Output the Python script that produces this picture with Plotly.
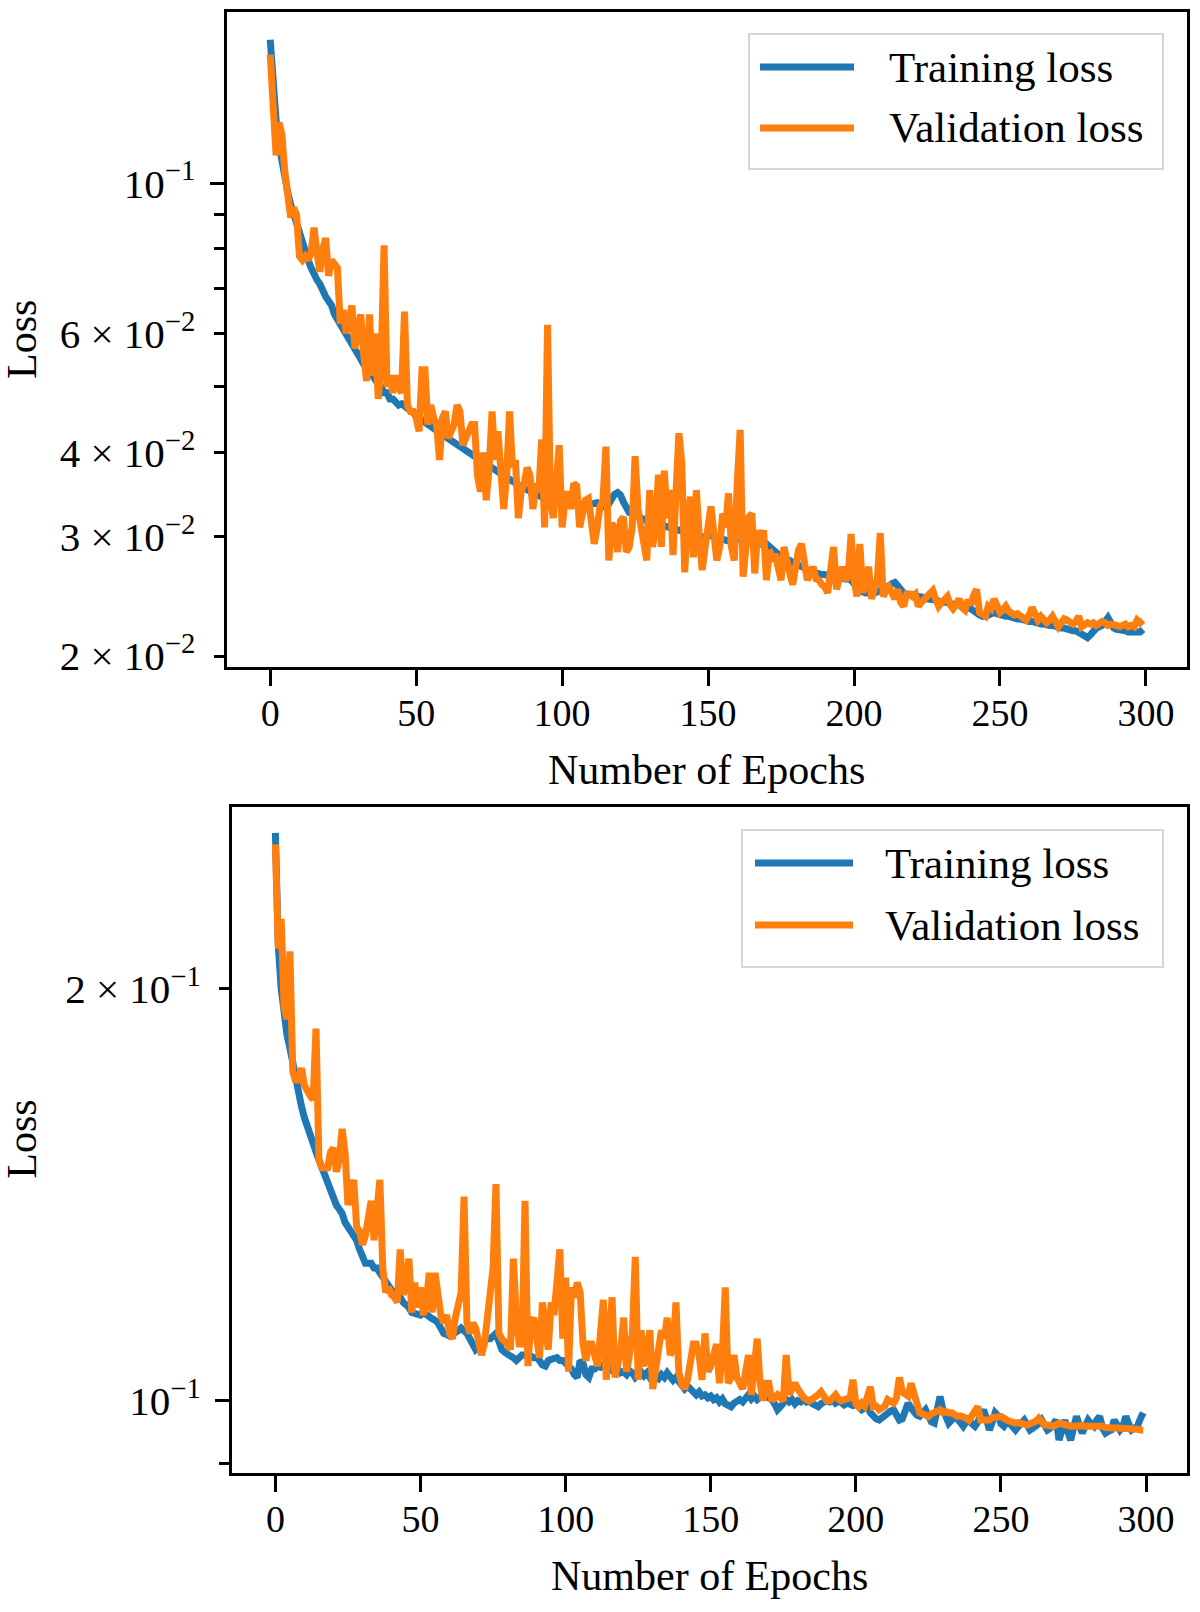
import plotly.graph_objects as go

# epochs and loss curves
epochs = list(range(300))

top_train = [
    0.163, 0.140, 0.124, 0.114, 0.107, 0.101, 0.097, 0.093, 0.090, 0.087,
    0.084, 0.081, 0.079, 0.077, 0.075, 0.073, 0.072, 0.071, 0.069, 0.068,
    0.067, 0.066, 0.064, 0.063, 0.062, 0.061, 0.060, 0.059, 0.058, 0.057,
    0.056, 0.055, 0.054, 0.0535, 0.053, 0.052, 0.051, 0.0505, 0.050, 0.049,
    0.049, 0.048, 0.048, 0.0475, 0.047, 0.0472, 0.0468, 0.0465, 0.046, 0.0458,
    0.0455, 0.045, 0.0447, 0.0443, 0.044, 0.0437, 0.0433, 0.043, 0.0428, 0.0425,
    0.0422, 0.042, 0.0417, 0.0413, 0.041, 0.0408, 0.0405, 0.0402, 0.040, 0.0398,
    0.0395, 0.0392, 0.039, 0.0387, 0.0385, 0.0382, 0.038, 0.0377, 0.0375, 0.0372,
    0.037, 0.0367, 0.0365, 0.0362, 0.036, 0.0358, 0.0356, 0.0354, 0.0352, 0.035,
    0.0348, 0.0347, 0.0345, 0.0344, 0.0342, 0.0341, 0.034, 0.0342, 0.0344, 0.0343,
    0.0342, 0.034, 0.0338, 0.0337, 0.0336, 0.0338, 0.0336, 0.0334, 0.0333, 0.0335,
    0.0336, 0.0338, 0.0337, 0.0334, 0.0333, 0.0332, 0.0336, 0.0342, 0.0347, 0.0349,
    0.0346, 0.0338, 0.033, 0.0326, 0.0325, 0.0323, 0.0322, 0.032, 0.0318, 0.0317,
    0.0316, 0.0315, 0.0314, 0.0313, 0.0312, 0.0311, 0.031, 0.0309, 0.0308, 0.0308,
    0.0307, 0.0306, 0.0305, 0.0304, 0.0304, 0.0303, 0.0302, 0.0301, 0.030, 0.030,
    0.0302, 0.0301, 0.030, 0.0299, 0.0298, 0.0297, 0.0297, 0.0296, 0.0296, 0.0295,
    0.0298, 0.0297, 0.0296, 0.0295, 0.0294, 0.0294, 0.0293, 0.0293, 0.0292, 0.0292,
    0.0293, 0.029, 0.0287, 0.0285, 0.0283, 0.0281, 0.028, 0.0278, 0.0277, 0.0275,
    0.0274, 0.0273, 0.0271, 0.027, 0.0268, 0.0267, 0.0266, 0.0265, 0.0265, 0.0264,
    0.0264, 0.0263, 0.0263, 0.0262, 0.0262, 0.0261, 0.0261, 0.026, 0.026, 0.0259,
    0.0256, 0.0253, 0.025, 0.0249, 0.0248, 0.0248, 0.0247, 0.0248, 0.0249, 0.025,
    0.0251, 0.0252, 0.0254, 0.0256, 0.0257, 0.0254, 0.025, 0.0248, 0.0247, 0.0247,
    0.0246, 0.0246, 0.0245, 0.0245, 0.0244, 0.0243, 0.0243, 0.0242, 0.0242, 0.0241,
    0.0241, 0.024, 0.024, 0.0239, 0.0239, 0.0238, 0.0238, 0.0237, 0.0237, 0.0236,
    0.0235, 0.0233, 0.0231, 0.023, 0.0229, 0.0229, 0.023, 0.0231, 0.0232, 0.0231,
    0.023, 0.023, 0.0229, 0.0229, 0.0228, 0.0228, 0.0227, 0.0227, 0.0226, 0.0226,
    0.0225, 0.0225, 0.0224, 0.0224, 0.0223, 0.0223, 0.0222, 0.0222, 0.0222, 0.0221,
    0.0221, 0.022, 0.022, 0.0219, 0.0219, 0.0218, 0.0218, 0.0217, 0.0216, 0.0215,
    0.0213, 0.0215, 0.0218, 0.022, 0.0221, 0.0222, 0.0225, 0.0228, 0.0224, 0.022,
    0.0219, 0.0219, 0.0218, 0.0218, 0.0217, 0.0217, 0.0217, 0.0216, 0.0217, 0.0219,
]

top_val = [
    0.155, 0.135, 0.110, 0.123, 0.118, 0.104, 0.095, 0.089, 0.092, 0.090,
    0.078, 0.077, 0.078, 0.077, 0.079, 0.086, 0.079, 0.074, 0.080, 0.083,
    0.073, 0.077, 0.076, 0.075, 0.062, 0.065, 0.060, 0.063, 0.066, 0.057,
    0.061, 0.064, 0.056, 0.051, 0.064, 0.052, 0.060, 0.048, 0.054, 0.081,
    0.050, 0.052, 0.049, 0.052, 0.050, 0.049, 0.0646, 0.047, 0.046, 0.046,
    0.045, 0.043, 0.053, 0.053, 0.044, 0.047, 0.045, 0.044, 0.039, 0.045,
    0.046, 0.042, 0.043, 0.044, 0.047, 0.046, 0.041, 0.042, 0.043, 0.044,
    0.044, 0.037, 0.035, 0.040, 0.034, 0.038, 0.046, 0.039, 0.043, 0.038,
    0.033, 0.037, 0.046, 0.038, 0.039, 0.032, 0.035, 0.036, 0.038, 0.037,
    0.033, 0.036, 0.035, 0.0418, 0.031, 0.0618, 0.034, 0.032, 0.038, 0.041,
    0.031, 0.034, 0.035, 0.033, 0.036, 0.0357, 0.031, 0.033, 0.034, 0.0342,
    0.0307, 0.0293, 0.031, 0.0333, 0.034, 0.0408, 0.0277, 0.0314, 0.031, 0.0285,
    0.0317, 0.0321, 0.0285, 0.029, 0.031, 0.0395, 0.033, 0.0307, 0.029, 0.0277,
    0.0352, 0.029, 0.031, 0.0371, 0.029, 0.0376, 0.032, 0.0352, 0.0282, 0.035,
    0.0427, 0.0386, 0.0266, 0.032, 0.0344, 0.028, 0.0352, 0.030, 0.0268, 0.029,
    0.0314, 0.0333, 0.0303, 0.0277, 0.029, 0.0325, 0.031, 0.0348, 0.029, 0.0277,
    0.036, 0.0432, 0.0262, 0.030, 0.0321, 0.0325, 0.0265, 0.0307, 0.029, 0.0307,
    0.0259, 0.0287, 0.028, 0.0283, 0.027, 0.0259, 0.029, 0.028, 0.0265, 0.0255,
    0.027, 0.0287, 0.0293, 0.027, 0.0259, 0.0265, 0.0271, 0.026, 0.0259, 0.0255,
    0.0253, 0.0248, 0.0265, 0.029, 0.0251, 0.026, 0.0271, 0.0259, 0.0262, 0.0303,
    0.026, 0.0245, 0.0293, 0.0248, 0.026, 0.0271, 0.0243, 0.0255, 0.026, 0.0304,
    0.0245, 0.025, 0.0253, 0.0248, 0.0243, 0.0251, 0.024, 0.0237, 0.0247, 0.0247,
    0.0245, 0.0247, 0.0237, 0.024, 0.0243, 0.0245, 0.0248, 0.025, 0.0243, 0.0237,
    0.024, 0.0243, 0.0245, 0.0238, 0.0235, 0.0238, 0.0243, 0.0236, 0.0234, 0.0242,
    0.0238, 0.0246, 0.0251, 0.0232, 0.0231, 0.0229, 0.0237, 0.0235, 0.0243, 0.0236,
    0.0232, 0.0234, 0.0237, 0.0233, 0.0232, 0.023, 0.0231, 0.0229, 0.0228, 0.0226,
    0.023, 0.0236, 0.0231, 0.0226, 0.0229, 0.0227, 0.0224, 0.0226, 0.0229, 0.0225,
    0.0221, 0.0224, 0.0227, 0.0226, 0.0224, 0.0223, 0.0225, 0.0229, 0.0221, 0.0222,
    0.0224, 0.0223, 0.0224, 0.0222, 0.0223, 0.0225, 0.0224, 0.0222, 0.0223, 0.0223,
    0.0222, 0.0221, 0.0222, 0.0223, 0.0221, 0.0222, 0.0221, 0.0226, 0.0224, 0.0226,
]

bottom_train = [
    0.260, 0.215, 0.200, 0.190, 0.185, 0.181, 0.176, 0.172, 0.168, 0.164,
    0.161, 0.159, 0.157, 0.155, 0.152, 0.150, 0.148, 0.146, 0.144, 0.143,
    0.141, 0.139, 0.138, 0.137, 0.135, 0.134, 0.133, 0.132, 0.131, 0.129,
    0.127, 0.126, 0.126, 0.126, 0.125, 0.125, 0.124, 0.123, 0.122, 0.121,
    0.1205, 0.120, 0.1195, 0.119, 0.118, 0.1175, 0.117, 0.116, 0.1158, 0.1155,
    0.1155, 0.116, 0.1155, 0.115, 0.1148, 0.1145, 0.114, 0.113, 0.112, 0.1118,
    0.1115, 0.1118, 0.112, 0.1125, 0.113, 0.1125, 0.112, 0.111, 0.110, 0.109,
    0.1095, 0.110, 0.1105, 0.111, 0.111, 0.1115, 0.112, 0.1105, 0.109, 0.1085,
    0.108, 0.1078, 0.1075, 0.107, 0.1075, 0.108, 0.108, 0.108, 0.1078, 0.1075,
    0.1075, 0.107, 0.1062, 0.106, 0.107, 0.1072, 0.1075, 0.1075, 0.107, 0.107,
    0.1065, 0.106, 0.1055, 0.1045, 0.104, 0.107, 0.1065, 0.1045, 0.104, 0.1055,
    0.1055, 0.106, 0.1058, 0.1062, 0.1056, 0.106, 0.1052, 0.105, 0.1055, 0.1048,
    0.105, 0.1045, 0.1052, 0.1048, 0.104, 0.1045, 0.105, 0.1043, 0.1048, 0.104,
    0.1045, 0.1042, 0.1038, 0.1045, 0.104, 0.1048, 0.1043, 0.1035, 0.104, 0.1032,
    0.1028, 0.102, 0.1025, 0.1018, 0.1015, 0.101, 0.1015, 0.1008, 0.101, 0.1005,
    0.1008, 0.1002, 0.1005, 0.0998, 0.1003, 0.0995, 0.0992, 0.099, 0.0996, 0.1,
    0.1002, 0.0998, 0.1005, 0.101, 0.1003, 0.1008, 0.1002, 0.1005, 0.101, 0.1008,
    0.1005, 0.1002, 0.0995, 0.0985, 0.099, 0.0998, 0.1002, 0.0998, 0.1002, 0.0995,
    0.1, 0.0998, 0.1002, 0.0998, 0.1, 0.0995, 0.0992, 0.099, 0.0995, 0.0998,
    0.1, 0.0998, 0.1002, 0.0996, 0.0999, 0.0997, 0.0993, 0.0996, 0.0994, 0.0992,
    0.0995, 0.099, 0.0985, 0.0988, 0.099, 0.098, 0.0974, 0.097, 0.0968, 0.0972,
    0.0978, 0.098, 0.0983, 0.0985, 0.0975, 0.0968, 0.097, 0.0985, 0.0996, 0.0988,
    0.098, 0.0976, 0.0974, 0.098, 0.0985, 0.0975, 0.0965, 0.0963, 0.098, 0.1007,
    0.0985, 0.097, 0.0963, 0.0968, 0.0974, 0.097, 0.0962, 0.0958, 0.0965, 0.0968,
    0.0962, 0.0958, 0.0965, 0.0978, 0.0985, 0.097, 0.0952, 0.0965, 0.098, 0.0975,
    0.0962, 0.0958, 0.0965, 0.0963, 0.0958, 0.0952, 0.0958, 0.0965, 0.0968, 0.096,
    0.0952, 0.0955, 0.0958, 0.0962, 0.0968, 0.096, 0.0952, 0.0955, 0.0962, 0.0968,
    0.0936, 0.0952, 0.0968, 0.095, 0.0936, 0.0955, 0.0974, 0.096, 0.0947, 0.0958,
    0.0968, 0.0962, 0.0958, 0.0968, 0.0974, 0.0955, 0.0947, 0.095, 0.0952, 0.0968,
    0.096, 0.0952, 0.0958, 0.0974, 0.0962, 0.0952, 0.0955, 0.0958, 0.097, 0.098,
]

bottom_val = [
    0.255, 0.214, 0.225, 0.194, 0.190, 0.213, 0.174, 0.171, 0.172, 0.175,
    0.170, 0.168, 0.167, 0.166, 0.187, 0.150, 0.148, 0.148, 0.148, 0.152,
    0.153, 0.147, 0.150, 0.158, 0.152, 0.139, 0.142, 0.145, 0.134, 0.133,
    0.130, 0.132, 0.136, 0.140, 0.131, 0.138, 0.145, 0.125, 0.120, 0.121,
    0.1195, 0.119, 0.118, 0.129, 0.1195, 0.122, 0.127, 0.116, 0.122, 0.117,
    0.121, 0.1155, 0.118, 0.124, 0.116, 0.124, 0.119, 0.1155, 0.114, 0.1155,
    0.112, 0.111, 0.115, 0.118, 0.120, 0.141, 0.114, 0.112, 0.114, 0.113,
    0.111, 0.108, 0.110, 0.1155, 0.118, 0.125, 0.144, 0.112, 0.111, 0.1105,
    0.110, 0.109, 0.127, 0.115, 0.110, 0.110, 0.140, 0.106, 0.114, 0.115,
    0.112, 0.1075, 0.118, 0.113, 0.109, 0.118, 0.1155, 0.122, 0.129, 0.111,
    0.123, 0.105, 0.121, 0.119, 0.122, 0.120, 0.110, 0.107, 0.110, 0.110,
    0.108, 0.106, 0.112, 0.1185, 0.1036, 0.110, 0.119, 0.104, 0.107, 0.109,
    0.115, 0.105, 0.108, 0.112, 0.1274, 0.1036, 0.1126, 0.106, 0.109, 0.1126,
    0.102, 0.106, 0.108, 0.1126, 0.111, 0.115, 0.108, 0.109, 0.118, 0.105,
    0.103, 0.102, 0.1036, 0.107, 0.110, 0.110, 0.108, 0.1036, 0.112, 0.105,
    0.106, 0.108, 0.110, 0.103, 0.108, 0.121, 0.103, 0.104, 0.108, 0.104,
    0.103, 0.102, 0.105, 0.108, 0.101, 0.105, 0.111, 0.103, 0.100, 0.103,
    0.103, 0.100, 0.1005, 0.101, 0.1005, 0.100, 0.108, 0.101, 0.102, 0.103,
    0.102, 0.101, 0.1005, 0.1002, 0.100, 0.1003, 0.1005, 0.101, 0.1015, 0.1008,
    0.100, 0.100, 0.1005, 0.101, 0.1003, 0.100, 0.1002, 0.1003, 0.1005, 0.1036,
    0.0995, 0.099, 0.0996, 0.0991, 0.1005, 0.1024, 0.099, 0.0991, 0.0985, 0.0988,
    0.0991, 0.1002, 0.0998, 0.0996, 0.1005, 0.104, 0.1015, 0.1013, 0.1008, 0.103,
    0.1008, 0.0996, 0.098, 0.0978, 0.0975, 0.0974, 0.0978, 0.098, 0.0982, 0.0985,
    0.098, 0.0982, 0.098, 0.098, 0.0977, 0.0974, 0.0975, 0.0974, 0.0971, 0.0968,
    0.0975, 0.0985, 0.099, 0.0968, 0.0968, 0.097, 0.0968, 0.0972, 0.0974, 0.0973,
    0.0974, 0.097, 0.0968, 0.0966, 0.0963, 0.0963, 0.0964, 0.0963, 0.0962, 0.096,
    0.0962, 0.0963, 0.0966, 0.0971, 0.0966, 0.096, 0.096, 0.0959, 0.0958, 0.096,
    0.0963, 0.0962, 0.096, 0.0959, 0.0958, 0.0958, 0.0959, 0.096, 0.0959, 0.0958,
    0.0958, 0.0959, 0.096, 0.0959, 0.096, 0.0958, 0.0956, 0.0955, 0.0955, 0.0955,
    0.0955, 0.0955, 0.0954, 0.0955, 0.0955, 0.0954, 0.0953, 0.0953, 0.0952, 0.0952,
]

series_names = ["Training loss", "Validation loss"]
series_colors = ["#1f77b4", "#ff7f0e"]

x_ticks = [0, 50, 100, 150, 200, 250, 300]

top_ticks = [0.02, 0.03, 0.04, 0.06, 0.1]
top_ticktext = ["2 × 10<sup>−2</sup>", "3 × 10<sup>−2</sup>", "4 × 10<sup>−2</sup>",
                "6 × 10<sup>−2</sup>", "10<sup>−1</sup>"]
top_minor = [0.05, 0.07, 0.08, 0.09]

bottom_ticks = [0.1, 0.2]
bottom_ticktext = ["10<sup>−1</sup>", "2 × 10<sup>−1</sup>"]
bottom_minor = [0.09]

W, H = 1200, 1612
FONT = "Liberation Serif"


def px(x):
    return x / W


def py(y):
    return 1 - y / H


fig = go.Figure()

panels = [
    dict(train=top_train, val=top_val, x="x", y="y", box=(226.6, 12.4, 1186.6, 667.4),
         yrange=[-1.7157, -0.7473], ticks=top_ticks, ticktext=top_ticktext, minor=top_minor,
         legend=(749, 34, 1163, 169, 760, 854, 887, 67, 128)),
    dict(train=bottom_train, val=bottom_val, x="x2", y="y2", box=(232, 806.5, 1186.6, 1473),
         yrange=[-1.0528, -0.5658], ticks=bottom_ticks, ticktext=bottom_ticktext, minor=bottom_minor,
         legend=(742, 830, 1163, 967, 755, 853, 883, 863, 925)),
]

for i, p in enumerate(panels):
    for name, color, values in zip(series_names, series_colors, [p["train"], p["val"]]):
        fig.add_trace(go.Scatter(x=epochs, y=values, mode="lines", name=name, showlegend=False,
                                 xaxis=p["x"], yaxis=p["y"],
                                 line=dict(color=color, width=7)))

    x0, y0, x1, y1 = p["box"]
    xa = "xaxis" if i == 0 else "xaxis2"
    ya = "yaxis" if i == 0 else "yaxis2"
    over = "yaxis3" if i == 0 else "yaxis4"
    over_id = "y3" if i == 0 else "y4"

    fig.layout[xa] = dict(
        domain=[px(x0), px(x1)], anchor=p["y"], range=[-14.95, 313.95],
        tickmode="array", tickvals=x_ticks, ticks="outside", ticklen=16, tickwidth=3,
        tickcolor="black", ticklabelstandoff=-6,
        showline=True, linewidth=3, linecolor="black", mirror=True,
        showgrid=False, zeroline=False, tickfont=dict(family=FONT, size=38, color="black"),
    )
    fig.layout[ya] = dict(
        domain=[py(y1), py(y0)], anchor=p["x"], type="log", range=p["yrange"],
        tickmode="array", tickvals=p["ticks"], ticktext=p["ticktext"], ticks="outside",
        ticklen=10, tickwidth=3, tickcolor="black", ticklabelstandoff=10,
        minor=dict(tickmode="array", tickvals=p["minor"], ticks="outside", ticklen=10,
                   tickwidth=3, tickcolor="black", showgrid=False),
        showline=True, linewidth=3, linecolor="black", mirror=True,
        showgrid=False, zeroline=False, tickfont=dict(family=FONT, size=41, color="black"),
    )
    # longer major tick at 10^-1
    fig.layout[over] = dict(
        overlaying=p["y"], anchor=p["x"], side="left", type="log", range=p["yrange"],
        tickmode="array", tickvals=[0.1], ticks="outside", ticklen=16, tickwidth=3,
        tickcolor="black", showticklabels=False, showline=False, showgrid=False, zeroline=False,
    )
    fig.add_trace(go.Scatter(x=[], y=[], xaxis=p["x"], yaxis=over_id, showlegend=False))

    # axis titles
    fig.add_annotation(text="Number of Epochs", xref="paper", yref="paper",
                       x=px((x0 + x1) / 2), y=py(y1 + 103), xanchor="center", yanchor="middle",
                       showarrow=False, font=dict(family=FONT, size=42, color="black"))
    fig.add_annotation(text="Loss", xref="paper", yref="paper", textangle=-90,
                       x=px(22), y=py((y0 + y1) / 2), xanchor="center", yanchor="middle",
                       showarrow=False, font=dict(family=FONT, size=42, color="black"))

    # legend box
    lx0, ly0, lx1, ly1, sx0, sx1, tx, r1, r2 = p["legend"]
    fig.add_shape(type="rect", xref="paper", yref="paper", layer="above",
                  x0=px(lx0), x1=px(lx1), y0=py(ly1), y1=py(ly0),
                  fillcolor="rgba(255,255,255,0.8)", line=dict(color="#d6d6d6", width=2))
    for name, color, ry in zip(series_names, series_colors, [r1, r2]):
        fig.add_shape(type="line", xref="paper", yref="paper", layer="above",
                      x0=px(sx0), x1=px(sx1), y0=py(ry), y1=py(ry),
                      line=dict(color=color, width=7))
        fig.add_annotation(text=name, xref="paper", yref="paper", x=px(tx), y=py(ry),
                           xanchor="left", yanchor="middle", showarrow=False,
                           font=dict(family=FONT, size=43, color="black"))

fig.update_layout(
    width=W, height=H, margin=dict(l=0, r=0, t=0, b=0, autoexpand=False),
    paper_bgcolor="white", plot_bgcolor="white", showlegend=False,
)

# drop the browser's default page margin so the figure sits at the window corner
fig.write_html("out.html", config={"displayModeBar": False},
               post_script="document.body.style.margin = '0px';")
